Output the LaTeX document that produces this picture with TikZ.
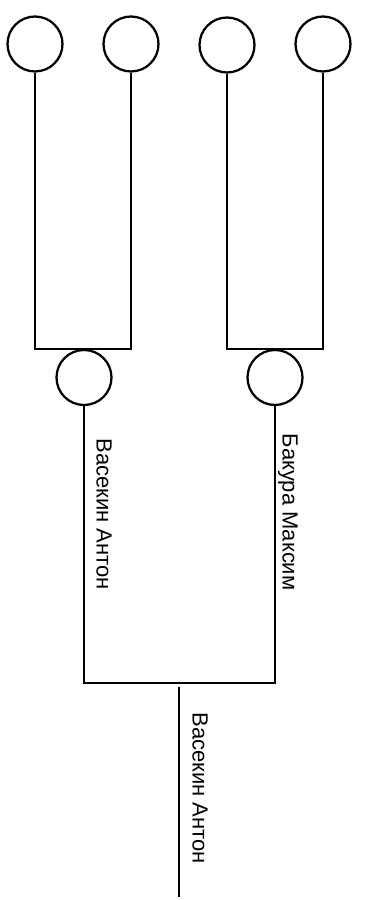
\documentclass[tikz,border=0pt]{standalone}
\usepackage{fontspec}
\setmainfont{Liberation Sans}
\usepackage{tikz}
\usetikzlibrary{calc}

\begin{document}
\begin{tikzpicture}[
		person/.style={draw, circle, line width=0.45mm, minimum size=1.1cm, inner sep=0pt},
		link/.style={line width=0.35mm},
		personname/.style={rotate=-90, font=\fontsize{12.5}{15}\selectfont}]
			%%%%% START %%%%%
			
			\useasboundingbox (0, 0) rectangle (7.32, 18);
			
			\node[person] (g1) at (0.70, 17.12) {};
			\node[person] (g2) at (2.62, 17.12) {};
			\node[person] (g3) at (4.54, 17.10) {};
			\node[person] (g4) at (6.46, 17.12) {};
			
			\node[person] (m1) at (1.68, 10.45) {};
			\node[person] (m2) at (5.50, 10.45) {};
			
			\draw[link] (g1.south) |- (m1.north) -| (g2.south);
			\draw[link] (g3.south) |- (m2.north) -| (g4.south);
			
			\coordinate (join) at (3.58, 4.34);
			\coordinate (tail) at (3.58, 0.06);
			
			\draw[link] (m1.south) |- (join) -| (m2.south);
			\draw[link] ($(join)+(0, -0.08)$) -- (tail);
			
			\node[personname] (n1) at (2.08, 7.72) {Васекин Антон};
			\node[personname] (n2) at (5.76, 7.76) {Бакура Максим};
			\node[personname] (n0) at (4.00, 2.24) {Васекин Антон};
			
			%%%%% END %%%%%
		\end{tikzpicture}
\end{document}
